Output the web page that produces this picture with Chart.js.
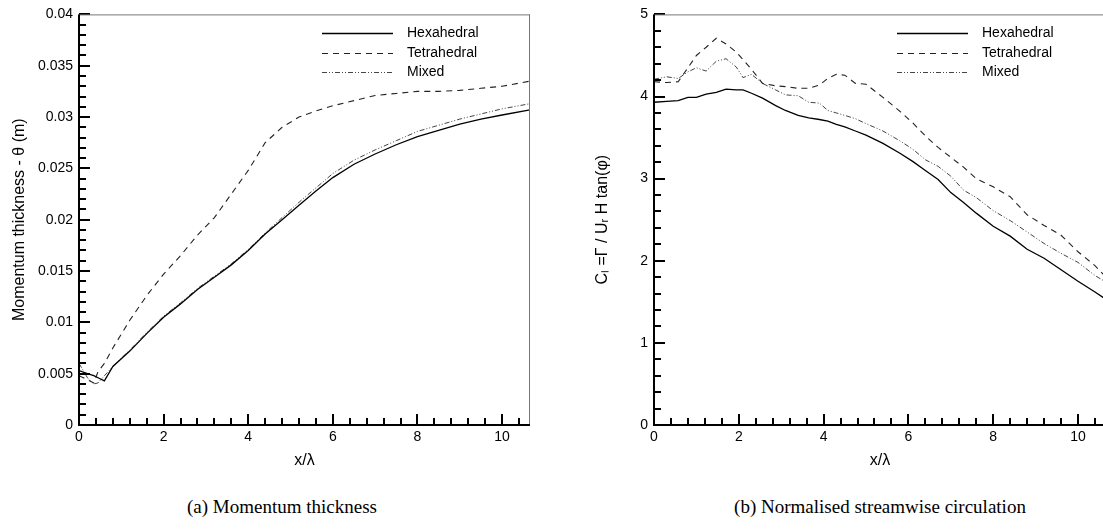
<!DOCTYPE html>
<html>
<head>
<meta charset="utf-8">
<script src="https://cdn.jsdelivr.net/npm/chart.js@4.4.1/dist/chart.umd.min.js"></script>
<style>
  html, body { margin: 0; padding: 0; background: #fff; overflow: hidden; width: 1103px; height: 529px; }
  .box { position: absolute; top: 0; }
  #boxA { left: 0; }
  #boxB { left: 575px; }
  .cap { position: absolute; top: 496px; font-family: "Liberation Serif", "DejaVu Serif", serif; font-size: 19px;
         color: #000; white-space: nowrap; transform: translateX(-50%); }
</style>
</head>
<body>
<div class="box" id="boxA"><canvas id="thetaChart" width="534" height="472"></canvas></div>
<div class="box" id="boxB"><canvas id="circChart" width="535" height="472"></canvas></div>
<div class="cap" style="left:282px">(a) Momentum thickness</div>
<div class="cap" style="left:880px">(b) Normalised streamwise circulation</div>

<script>
// --- DONNÉES ---
const seriesNames = ['Hexahedral', 'Tetrahedral', 'Mixed'];

// (a) épaisseur de quantité de mouvement
const thetaX   = [0, 0.2, 0.35, 0.45, 0.6, 0.8, 1.2, 1.6, 2, 2.4, 2.8, 3.2, 3.6, 4, 4.4, 4.8, 5.2, 5.6, 6, 6.5, 7, 7.5, 8, 8.5, 9, 9.5, 10, 10.66];
const thetaHex = [0.0053, 0.0050, 0.0048, 0.0046, 0.0043, 0.0057, 0.0072, 0.0089, 0.0105, 0.0118, 0.0132, 0.0144, 0.0156, 0.0170, 0.0186, 0.0200, 0.0214, 0.0228, 0.0241, 0.0254, 0.0264, 0.0273, 0.0281, 0.0287, 0.0293, 0.0298, 0.0302, 0.0307];
const thetaTet = [0.0048, 0.0044, 0.0041, 0.0052, 0.0060, 0.0075, 0.0102, 0.0126, 0.0147, 0.0165, 0.0185, 0.0202, 0.0225, 0.0248, 0.0275, 0.0290, 0.0300, 0.0306, 0.0311, 0.0316, 0.0321, 0.0323, 0.0325, 0.0325, 0.0326, 0.0328, 0.0330, 0.0335];
const thetaMix = [0.0060, 0.0046, 0.0040, 0.0041, 0.0048, 0.0057, 0.0073, 0.0090, 0.0106, 0.0119, 0.0133, 0.0145, 0.0157, 0.0171, 0.0187, 0.0202, 0.0217, 0.0231, 0.0245, 0.0258, 0.0268, 0.0277, 0.0286, 0.0292, 0.0298, 0.0303, 0.0308, 0.0313];

// (b) circulation normalisée
const circX   = [0, 0.3, 0.57, 0.8, 1.0, 1.23, 1.47, 1.7, 1.94, 2.1, 2.3, 2.56, 2.87, 3.1, 3.4, 3.65, 3.9, 4.1, 4.3, 4.5, 4.75, 5.0, 5.4, 5.8, 6.1, 6.4, 6.7, 7.0, 7.3, 7.6, 8.0, 8.4, 8.8, 9.2, 9.6, 10.0, 10.4, 10.66];
const circHex = [3.93, 3.94, 3.95, 3.99, 3.99, 4.03, 4.05, 4.09, 4.08, 4.08, 4.04, 3.98, 3.89, 3.83, 3.77, 3.74, 3.72, 3.70, 3.66, 3.63, 3.58, 3.53, 3.43, 3.31, 3.21, 3.10, 2.99, 2.83, 2.71, 2.58, 2.42, 2.30, 2.14, 2.03, 1.89, 1.75, 1.62, 1.53];
const circTet = [4.18, 4.17, 4.18, 4.35, 4.50, 4.60, 4.71, 4.64, 4.54, 4.45, 4.33, 4.16, 4.13, 4.12, 4.10, 4.10, 4.14, 4.22, 4.27, 4.26, 4.16, 4.15, 3.99, 3.82, 3.68, 3.52, 3.38, 3.26, 3.14, 3.00, 2.90, 2.78, 2.56, 2.43, 2.31, 2.11, 1.94, 1.80];
const circMix = [4.21, 4.24, 4.22, 4.30, 4.35, 4.31, 4.43, 4.46, 4.36, 4.23, 4.27, 4.16, 4.08, 4.02, 4.01, 3.93, 3.92, 3.83, 3.80, 3.77, 3.73, 3.67, 3.58, 3.46, 3.36, 3.23, 3.15, 3.03, 2.86, 2.77, 2.61, 2.49, 2.35, 2.21, 2.09, 1.98, 1.82, 1.74];

// --- STYLES ---
Chart.defaults.font.family = '"Liberation Sans", Arial, sans-serif';
Chart.defaults.color = '#000';

const lineStyles = [
    { borderColor: '#000', borderWidth: 1.3, borderDash: [] },
    { borderColor: '#222', borderWidth: 1.1, borderDash: [6, 5] },
    { borderColor: '#444', borderWidth: 1, borderDash: [5, 2, 1, 2, 1, 2] }
];

const isMult = (v, step) => Math.abs(v / step - Math.round(v / step)) < 1e-6;

// Cadre style Tecplot : graduations vers l'intérieur, axes noirs, bord haut/droit gris
function makeFrame(cfg) {
    return {
        id: 'tecFrame',
        afterDraw(chart) {
            const ctx = chart.ctx;
            const a = chart.chartArea;
            const x = chart.scales.x, y = chart.scales.y;
            ctx.save();
            ctx.setLineDash([]);
            ctx.fillStyle = '#000';
            for (let k = 0; k * 0.4 <= 10.66; k++) {
                const px = Math.round(x.getPixelForValue(k * 0.4));
                const len = (k % 5 === 0) ? 11 : 7;
                ctx.fillRect(px - 1, a.bottom - len, 2, len);
            }
            const nY = Math.round(cfg.yMax / cfg.yMinor);
            for (let k = 0; k <= nY; k++) {
                const py = Math.round(y.getPixelForValue(k * cfg.yMinor));
                const len = (k % cfg.yEvery === 0) ? 11 : 7;
                ctx.fillRect(a.left, py - 1, len, 2);
            }
            // bords haut / droit
            ctx.fillStyle = '#777';
            ctx.fillRect(a.left, a.top, a.right - a.left, 1);
            ctx.fillRect(a.right - 1, a.top, 1, a.bottom - a.top);
            // axes gauche / bas
            ctx.fillStyle = '#000';
            ctx.fillRect(a.left - 1, a.top, 2, a.bottom - a.top + 1);
            ctx.fillRect(a.left - 1, a.bottom - 1, a.right - a.left + 1, 2);
            ctx.restore();
        }
    };
}

// Légende dessinée à la main (échantillons de trait + texte)
const legendPlugin = {
    id: 'plotLegend',
    afterDraw(chart) {
        const ctx = chart.ctx;
        const rows = [33, 53, 72];
        ctx.save();
        ctx.font = '14px "Liberation Sans", Arial, sans-serif';
        ctx.textBaseline = 'middle';
        ctx.fillStyle = '#000';
        chart.data.datasets.forEach((ds, i) => {
            const yy = rows[i] + 0.5;
            ctx.strokeStyle = ds.borderColor;
            ctx.lineWidth = ds.borderWidth;
            ctx.setLineDash(ds.borderDash);
            ctx.beginPath();
            ctx.moveTo(322, yy);
            ctx.lineTo(393, yy);
            ctx.stroke();
            ctx.setLineDash([]);
            ctx.fillText(ds.label, 407, rows[i]);
        });
        ctx.restore();
    }
};

function makeDatasets(xs, ysList) {
    return ysList.map((ys, i) => ({
        label: seriesNames[i],
        data: xs.map((x, k) => ({ x: x, y: ys[k] })),
        pointRadius: 0,
        tension: 0,
        fill: false,
        ...lineStyles[i]
    }));
}

function buildChart(canvasId, datasets, cfg) {
    return new Chart(document.getElementById(canvasId), {
        type: 'line',
        data: { datasets: datasets },
        plugins: [makeFrame(cfg), legendPlugin],
        options: {
            responsive: false,
            animation: false,
            devicePixelRatio: 1,
            layout: { padding: { top: 12, right: cfg.padRight, bottom: 0, left: 0 } },
            plugins: { legend: { display: false }, tooltip: { enabled: false } },
            scales: {
                x: {
                    type: 'linear', min: 0, max: 10.66,
                    grid: { display: false, drawTicks: false },
                    border: { display: false },
                    ticks: {
                        stepSize: 0.4, autoSkip: false, maxRotation: 0, padding: 4,
                        font: { size: 14 },
                        callback: v => isMult(v, 2) ? String(Math.round(v)) : ''
                    },
                    title: { display: true, text: 'x/λ', font: { size: 16 }, padding: { top: 0, bottom: 2 } },
                    afterFit: s => { s.height = 47; }
                },
                y: {
                    type: 'linear', min: 0, max: cfg.yMax,
                    grid: { display: false, drawTicks: false },
                    border: { display: false },
                    ticks: {
                        stepSize: cfg.yMinor, autoSkip: false, padding: 6,
                        font: { size: 14 },
                        callback: cfg.yLabel
                    },
                    title: { display: true, text: cfg.yTitle, font: { size: 16 }, padding: { top: cfg.titlePad, bottom: 0 } },
                    afterFit: s => { s.width = 79; }
                }
            }
        }
    });
}

buildChart('thetaChart', makeDatasets(thetaX, [thetaHex, thetaTet, thetaMix]), {
    yMax: 0.04, yMinor: 0.001, yEvery: 5, padRight: 1, titlePad: 10,
    yTitle: 'Momentum thickness - θ (m)',
    yLabel: v => isMult(v, 0.005) ? String(parseFloat(v.toFixed(3))) : ''
});

buildChart('circChart', makeDatasets(circX, [circHex, circTet, circMix]), {
    yMax: 5, yMinor: 0.2, yEvery: 5, padRight: 0, titlePad: 18,
    yTitle: 'Cₗ =Γ / Uᵣ H tan(φ)',
    yLabel: v => isMult(v, 1) ? String(Math.round(v)) : ''
});
</script>
</body>
</html>
